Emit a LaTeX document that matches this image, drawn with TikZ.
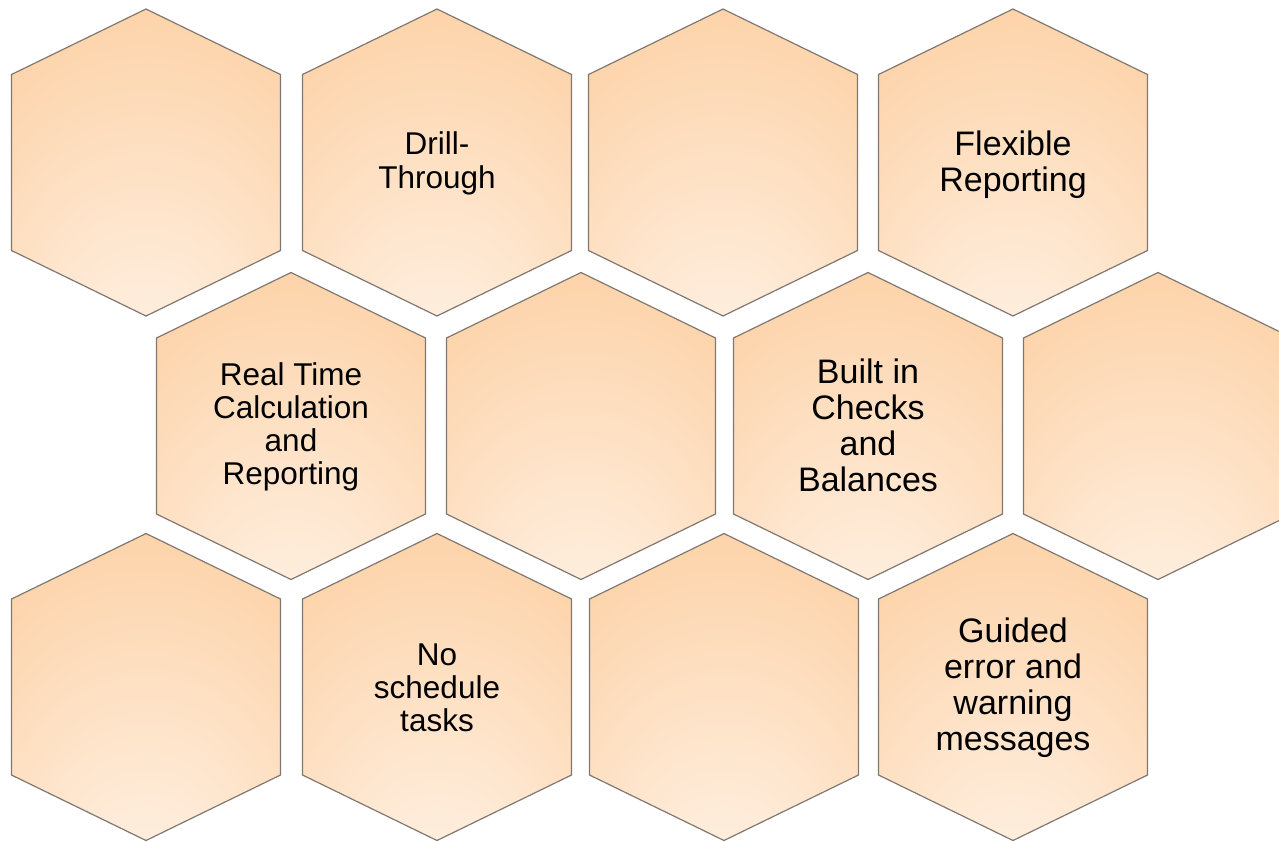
\documentclass[tikz,border=0pt]{standalone}
\usepackage{fontspec}
\setmainfont{Liberation Sans}
\definecolor{hexdark}{HTML}{FBBE80}
\definecolor{hexlight}{HTML}{FFF3E8}
\definecolor{hexedge}{HTML}{807870}
\pgfdeclareradialshading{hexglow}{\pgfpoint{0bp}{-42bp}}{color(0bp)=(hexlight); color(4bp)=(hexlight); color(66bp)=(hexdark)}
\tikzset{
  hexcell/.style = {shading=hexglow, draw=hexedge, line width=1.2pt, line join=miter},
  bigtext/.style = {align=center, font=\fontsize{34}{36}\selectfont},
  smalltext/.style = {align=center, font=\fontsize{31.5}{33}\selectfont}
}

\begin{document}
\begin{tikzpicture}[x=1pt, y=-1pt]
\useasboundingbox (0,0) rectangle (1279,841);
% three rows of hexagons, centre of each given in pixels
\foreach \cx/\cy in {146/162.5, 437/162.5, 723/162.5, 1013/162.5,
                     291/426, 581/426, 868/426, 1158/426,
                     146/687, 437/687, 724/687, 1013/687}
  \shade [hexcell] (\cx,\cy-153.5) -- (\cx+134.5,\cy-88) -- (\cx+134.5,\cy+88)
    -- (\cx,\cy+153.5) -- (\cx-134.5,\cy+88) -- (\cx-134.5,\cy-88) -- cycle;
\node [smalltext, font=\fontsize{31.5}{34}\selectfont] (drill) at (437,163) {Drill-\\Through};
\node [bigtext] (flex) at (1013,165) {Flexible\\Reporting};
\node [smalltext] (realtime) at (291,427) {Real Time\\Calculation\\and\\Reporting};
\node [bigtext] (checks) at (868,425) {Built in\\Checks\\and\\Balances};
\node [smalltext] (nosched) at (437,688) {No\\schedule\\tasks};
\node [bigtext] (guided) at (1013,688) {Guided\\error and\\warning\\messages};
\end{tikzpicture}
\end{document}
